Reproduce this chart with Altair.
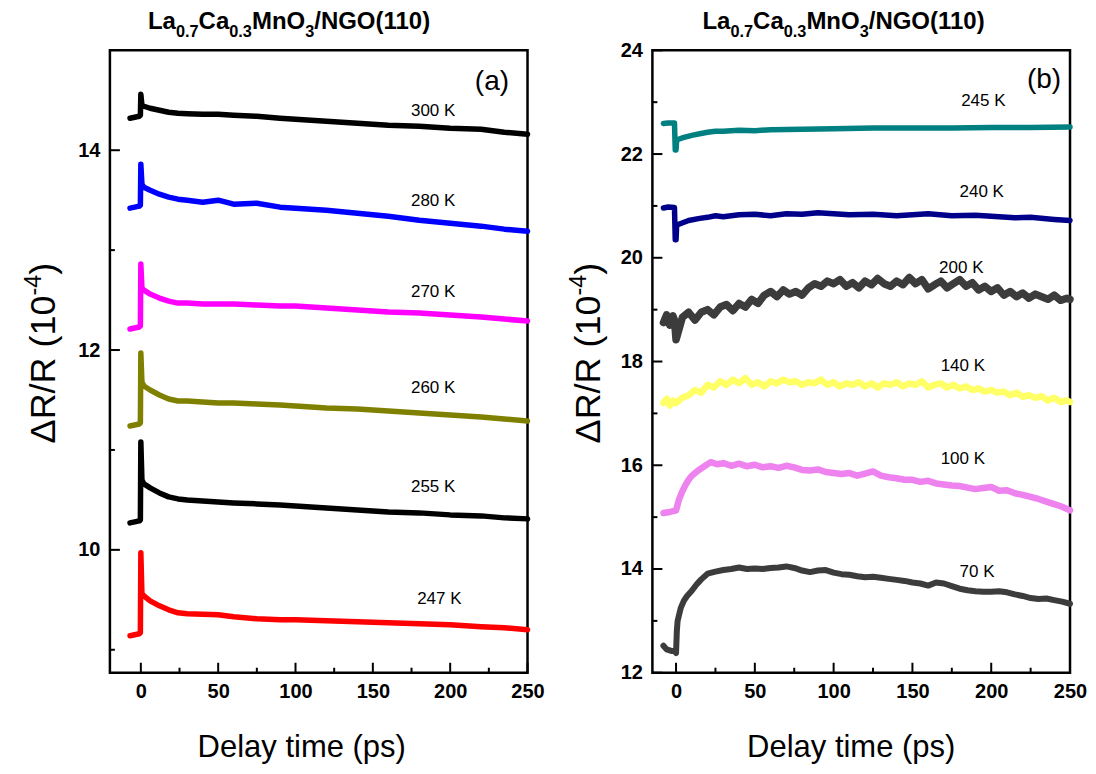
import altair as alt
import pandas as pd

FONT = "Liberation Sans"
W, H = 418, 623

# ---------------- panel (a) data ----------------
a_x = [-7, -4, -1, -0.3, 0, 0.7, 2, 6, 12, 18, 24, 30, 40, 50, 60, 75, 90, 100,
       120, 140, 160, 180, 200, 220, 235, 250]
a_300 = [14.32, 14.33, 14.34, 14.35, 14.56, 14.45, 14.44, 14.42, 14.40, 14.38, 14.37, 14.365, 14.36,
         14.36, 14.35, 14.34, 14.32, 14.31, 14.29, 14.27, 14.25, 14.24, 14.22, 14.21, 14.18, 14.16]
a_280 = [13.42, 13.43, 13.44, 13.45, 13.86, 13.66, 13.63, 13.60, 13.56, 13.53, 13.51, 13.50, 13.48,
         13.50, 13.46, 13.47, 13.43, 13.42, 13.40, 13.37, 13.34, 13.30, 13.27, 13.24, 13.21, 13.19]
a_270 = [12.21, 12.22, 12.23, 12.24, 12.86, 12.62, 12.60, 12.56, 12.52, 12.49, 12.47, 12.47, 12.46,
         12.46, 12.46, 12.45, 12.44, 12.44, 12.42, 12.40, 12.38, 12.37, 12.35, 12.33, 12.31, 12.29]
a_260 = [11.24, 11.25, 11.26, 11.27, 11.97, 11.68, 11.64, 11.60, 11.55, 11.51, 11.49, 11.49, 11.48,
         11.47, 11.47, 11.46, 11.45, 11.44, 11.42, 11.41, 11.39, 11.37, 11.35, 11.33, 11.31, 11.29]
a_255 = [10.27, 10.28, 10.29, 10.30, 11.08, 10.70, 10.66, 10.62, 10.57, 10.53, 10.51, 10.50, 10.49,
         10.48, 10.47, 10.46, 10.45, 10.44, 10.42, 10.40, 10.38, 10.37, 10.35, 10.34, 10.32, 10.31]
a_247 = [9.14, 9.15, 9.16, 9.17, 9.97, 9.56, 9.54, 9.49, 9.44, 9.40, 9.37, 9.36, 9.355,
         9.35, 9.33, 9.31, 9.30, 9.30, 9.29, 9.28, 9.27, 9.26, 9.25, 9.23, 9.22, 9.20]
a_names = ["300 K", "280 K", "270 K", "260 K", "255 K", "247 K"]
a_colors = ["#000000", "#0000FF", "#FF00FF", "#808000", "#000000", "#FF0000"]
a_widths = [5.5, 5.5, 5.5, 5.5, 5.5, 5.5]
a_lab_x = [189, 189, 189, 189, 189, 193]
a_lab_y = [14.39, 13.49, 12.58, 11.62, 10.63, 9.51]

# ---------------- panel (b) data ----------------
b_x245 = [-8, -5, -1, -0.5, 0, 0.4, 2, 5, 10, 15, 20, 25, 30, 40, 50, 60, 80, 100, 125, 150, 175, 200, 225, 250]
b_245 = [22.59, 22.6, 22.6, 22.08, 22.08, 22.27, 22.29, 22.32, 22.36, 22.39, 22.42, 22.44, 22.44,
         22.46, 22.45, 22.47, 22.48, 22.49, 22.5, 22.5, 22.5, 22.51, 22.51, 22.52]
b_x240 = [-8, -5, -1, -0.5, 0, 0.4, 3, 8, 15, 20, 25, 30, 40, 50, 60, 70, 80, 90, 100, 110, 125,
          140, 150, 160, 175, 190, 200, 215, 225, 240, 250]
b_240 = [20.96, 20.98, 20.97, 20.35, 20.35, 20.63, 20.66, 20.72, 20.76, 20.78, 20.81, 20.79, 20.83,
         20.84, 20.81, 20.85, 20.84, 20.87, 20.85, 20.83, 20.84, 20.81, 20.83, 20.85, 20.81, 20.82,
         20.8, 20.77, 20.78, 20.74, 20.72]
b_xnoisy = [-8, -6, -4, -2, -1] + list(range(0, 252, 4)) + [250]
b_200 = [18.75, 18.9, 18.7, 18.88, 18.8,
         18.42, 18.85, 18.95, 18.8, 18.95, 19.0, 18.9, 19.05, 19.1, 18.98, 19.12, 19.05, 19.2, 19.12,
         19.28, 19.35, 19.25, 19.38, 19.3, 19.35, 19.28, 19.42, 19.5, 19.45, 19.55, 19.5, 19.58, 19.45,
         19.52, 19.42, 19.55, 19.48, 19.6, 19.5, 19.45, 19.55, 19.48, 19.62, 19.5, 19.58, 19.4, 19.48,
         19.55, 19.42, 19.5, 19.58, 19.45, 19.52, 19.38, 19.45, 19.35, 19.42, 19.28, 19.35, 19.25,
         19.32, 19.22, 19.3, 19.25, 19.2, 19.28, 19.18, 19.22,
         19.2]
b_140 = [17.2, 17.28, 17.15, 17.25, 17.2,
         17.2, 17.3, 17.35, 17.45, 17.4, 17.55, 17.5, 17.62, 17.55, 17.65, 17.58, 17.68, 17.55, 17.6,
         17.52, 17.62, 17.58, 17.65, 17.6, 17.62, 17.55, 17.6, 17.58, 17.65, 17.55, 17.6, 17.52, 17.58,
         17.55, 17.6, 17.52, 17.58, 17.5, 17.58, 17.55, 17.6, 17.52, 17.58, 17.55, 17.62, 17.5, 17.55,
         17.58, 17.5, 17.55, 17.48, 17.52, 17.45, 17.48, 17.42, 17.45, 17.4, 17.42, 17.35, 17.4, 17.32,
         17.35, 17.3, 17.33, 17.25, 17.3, 17.22, 17.25,
         17.22]
b_x100 = [-8, -4, -1, 0, 2, 4, 6, 8, 10, 14, 18, 22, 26, 30] + list(range(35, 251, 5))
b_100 = [15.08, 15.1, 15.12, 15.13, 15.35, 15.5, 15.62, 15.72, 15.8, 15.9, 15.98, 16.06, 16.02, 16.04,
         15.99, 16.03, 15.98, 16.01, 15.96, 15.98, 15.95, 15.99, 15.96, 15.91, 15.9, 15.92, 15.87,
         15.85, 15.83, 15.85, 15.8, 15.84, 15.88, 15.8, 15.77, 15.75, 15.72, 15.72, 15.68, 15.7,
         15.65, 15.63, 15.61, 15.6, 15.57, 15.54, 15.56, 15.58, 15.51, 15.52, 15.46, 15.43, 15.39,
         15.35, 15.3, 15.25, 15.2, 15.13]
b_x70 = [-8, -6, -3, -1, 0, 0.5, 1, 3, 5, 7, 10, 13, 16, 20] + list(range(25, 251, 5))
b_70 = [12.52, 12.45, 12.42, 12.42, 12.38, 12.8, 13.0, 13.25, 13.39, 13.48, 13.58, 13.7, 13.8, 13.91,
        13.95, 13.98, 14.0, 14.03, 14.0, 14.01, 14.0, 14.02, 14.03, 14.05,
        14.02, 13.97, 13.94, 13.97, 13.98, 13.93, 13.9, 13.89, 13.86, 13.84,
        13.85, 13.83, 13.81, 13.79, 13.77, 13.74, 13.72, 13.68, 13.74, 13.72,
        13.67, 13.62, 13.59, 13.57, 13.56, 13.56, 13.57, 13.55, 13.51, 13.48,
        13.44, 13.42, 13.43, 13.4, 13.37, 13.33]
b_names = ["245 K", "240 K", "200 K", "140 K", "100 K", "70 K"]
b_colors = ["#008080", "#00008B", "#3C3C3C", "#FFFF66", "#EE82EE", "#3C3C3C"]
b_widths = [5.5, 5.5, 7.5, 6.5, 6.5, 6]
b_lab_x = [195, 194, 181, 182, 182, 191]
b_lab_y = [23.03, 21.26, 19.8, 17.92, 16.13, 13.95]

x_major = [0, 50, 100, 150, 200, 250]
x_minor = [25, 75, 125, 175, 225]
a_ymajor = [10, 12, 14]
a_yminor = [9, 11, 13]
b_ymajor = [12, 14, 16, 18, 20, 22, 24]
b_yminor = [13, 15, 17, 19, 21, 23]


def long_df(xs_list, ys_list, names, colors, widths):
    rows = []
    for xs, ys, n, c, w in zip(xs_list, ys_list, names, colors, widths):
        assert len(xs) == len(ys), (n, len(xs), len(ys))
        for i, (t, v) in enumerate(zip(xs, ys)):
            rows.append({"t": t, "v": v, "s": n, "c": c, "w": w, "i": i})
    return pd.DataFrame(rows)


a_df = long_df([a_x] * 6, [a_300, a_280, a_270, a_260, a_255, a_247], a_names, a_colors, a_widths)
b_df = long_df([b_x245, b_x240, b_xnoisy, b_xnoisy, b_x100, b_x70],
               [b_245, b_240, b_200, b_140, b_100, b_70], b_names, b_colors, b_widths)

# Arial / Liberation Sans advance widths (per 1000 em)
REG = {' ': 278, '(': 333, ')': 333, '/': 278, '-': 333, '0': 556, '1': 556, '4': 556,
       'Δ': 668, 'R': 722}
BLD = {'L': 611, 'a': 556, 'C': 722, 'M': 833, 'n': 611, 'O': 778, '/': 278, 'N': 722,
       'G': 778, '(': 333, ')': 333, '0': 556, '1': 556, '3': 556, '7': 556, '.': 278}


def tw(s, size, bold=False):
    tab = BLD if bold else REG
    return sum(tab[ch] for ch in s) * size / 1000.0


ONE = pd.DataFrame({"k": [0]})


def vtext(txt, x, y, size, bold=False, angle=0, align="left", baseline="alphabetic"):
    kw = dict(text=txt, align=align, baseline=baseline, font=FONT, fontSize=size,
              fontWeight="bold" if bold else "normal", color="black")
    if angle:
        kw["angle"] = angle
    return alt.Chart(ONE).mark_text(**kw).encode(x=alt.value(x), y=alt.value(y))


def title_layers(cx, by, T=24):
    s = 0.68 * T
    pieces = [("La", False), ("0.7", True), ("Ca", False), ("0.3", True),
              ("MnO", False), ("3", True), ("/NGO(110)", False)]
    total = sum(tw(p, s if sub else T, True) for p, sub in pieces)
    x = cx - total / 2
    out = []
    for p, sub in pieces:
        size = s if sub else T
        out.append(vtext(p, x, by + (0.3 * T if sub else 0), size, bold=True))
        x += tw(p, size, True)
    return out


def ytitle_layers(ax, cy, F=36):
    sup = 0.65 * F
    pieces = [("ΔR/R (10", False), ("-4", True), (")", False)]
    total = sum(tw(p, sup if s else F) for p, s in pieces)
    y = cy + total / 2
    out = []
    for p, s in pieces:
        size = sup if s else F
        out.append(vtext(p, ax - (0.4 * F if s else 0), y, size, angle=270))
        y -= tw(p, size)
    return out


def panel(df, lab_x, lab_y, names, xdom, ydom, ymaj, ymin, letter, lpos,
          ytx, ytcy, tcx, xtcx):
    xs = alt.Scale(domain=xdom, nice=False, zero=False)
    ys = alt.Scale(domain=ydom, nice=False, zero=False)
    xaxis = alt.Axis(values=x_major, ticks=False, domain=False, grid=False, labelFont=FONT,
                     labelFontSize=20, labelFontWeight="bold", labelColor="black",
                     labelPadding=9, labelFlush=False, title=None, format="d")
    yaxis = alt.Axis(values=ymaj, ticks=False, domain=False, grid=False, labelFont=FONT,
                     labelFontSize=20, labelFontWeight="bold", labelColor="black",
                     labelPadding=10, title=None, format="d")
    X = lambda: alt.X("t:Q", scale=xs, axis=xaxis)
    Y = lambda: alt.Y("v:Q", scale=ys, axis=yaxis)
    lines = alt.Chart(df).mark_line(strokeCap="round", strokeJoin="round").encode(
        x=X(), y=Y(),
        color=alt.Color("c:N", scale=None),
        strokeWidth=alt.StrokeWidth("w:Q", scale=None),
        detail="s:N",
        order="i:Q",
    )
    xt_maj = alt.Chart(pd.DataFrame({"t": x_major})).mark_rule(color="black", strokeWidth=2).encode(
        x=X(), y=alt.value(H), y2=alt.value(H - 10))
    xt_min = alt.Chart(pd.DataFrame({"t": x_minor})).mark_rule(color="black", strokeWidth=2).encode(
        x=X(), y=alt.value(H), y2=alt.value(H - 5))
    yt_maj = alt.Chart(pd.DataFrame({"v": ymaj})).mark_rule(color="black", strokeWidth=2).encode(
        y=Y(), x=alt.value(0), x2=alt.value(10))
    yt_min = alt.Chart(pd.DataFrame({"v": ymin})).mark_rule(color="black", strokeWidth=2).encode(
        y=Y(), x=alt.value(0), x2=alt.value(5))
    labs = alt.Chart(pd.DataFrame({"t": lab_x, "v": lab_y, "s": names})).mark_text(
        font=FONT, fontSize=17, color="black", align="center", baseline="middle").encode(
        x=X(), y=Y(), text="s:N")
    let = alt.Chart(pd.DataFrame({"t": [lpos[0]], "v": [lpos[1]], "s": [letter]})).mark_text(
        font=FONT, fontSize=28, color="black", align="center", baseline="middle").encode(
        x=X(), y=Y(), text="s:N")
    xtitle = vtext("Delay time (ps)", xtcx, H + 75, 31, align="center", baseline="middle")
    layers = [lines, xt_maj, xt_min, yt_maj, yt_min, labs, let, xtitle]
    layers += title_layers(tcx, -21)
    layers += ytitle_layers(ytx, ytcy)
    return alt.layer(*layers).properties(width=W, height=H)


pa = panel(a_df, a_lab_x, a_lab_y, a_names, [-20, 250], [8.77, 15.0], a_ymajor, a_yminor,
           "(a)", (227, 14.68), -55, 303, 180, W / 2 - 17)
pb = panel(b_df, b_lab_x, b_lab_y, b_names, [-15, 250], [12, 24], b_ymajor, b_yminor,
           "(b)", (233.5, 23.42), -52, 303, 192, W / 2 - 10)

chart = alt.hconcat(pa, pb, spacing=20).properties(
    padding={"left": 12, "top": 0, "right": 0, "bottom": 0},
    background="white",
).configure(font=FONT).configure_view(stroke="black", strokeWidth=2.5)

chart.save("out.html", embed_options={"renderer": "svg", "actions": False})
